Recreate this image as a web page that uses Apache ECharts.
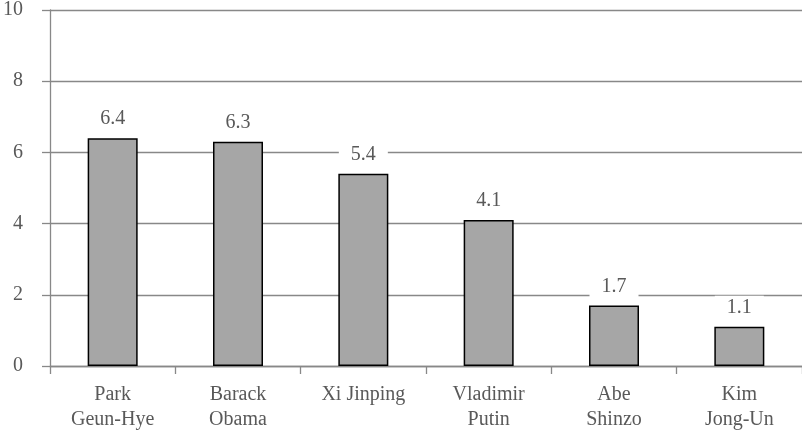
<!DOCTYPE html>
<html>
<head>
<meta charset="utf-8">
<script src="https://cdn.jsdelivr.net/npm/echarts@6/dist/echarts.min.js"></script>
<style>
  html, body { margin: 0; padding: 0; background: #fff; }
  #chart { width: 802px; height: 441px; }
</style>
</head>
<body>
<div id="chart"></div>
<script>
// Leaders and their scores
const leaders = ['Park\nGeun-Hye', 'Barack\nObama', 'Xi Jinping', 'Vladimir\nPutin', 'Abe\nShinzo', 'Kim\nJong-Un'];
const scores = [6.4, 6.3, 5.4, 4.1, 1.7, 1.1];
const yTicks = { min: 0, max: 10, step: 2 };

const serif = '"Liberation Serif", "DejaVu Serif", serif';
const textColor = '#595959';
const lineColor = '#888888';

const chart = echarts.init(document.getElementById('chart'), null, { renderer: 'canvas' });
chart.setOption({
  animation: false,
  backgroundColor: '#ffffff',
  grid: { left: 50, right: 0, top: 9, bottom: 75, containLabel: false },
  xAxis: {
    type: 'category',
    data: leaders,
    axisLine: { show: true, lineStyle: { color: lineColor, width: 1.3 } },
    axisTick: { show: true, length: 8, alignWithLabel: false, lineStyle: { color: lineColor, width: 1.3 } },
    axisLabel: {
      color: textColor, fontFamily: serif, fontSize: 20, lineHeight: 25, margin: 16, interval: 0
    }
  },
  yAxis: {
    type: 'value',
    min: yTicks.min, max: yTicks.max, interval: yTicks.step,
    axisLine: { show: true, lineStyle: { color: lineColor, width: 1.3 } },
    axisTick: { show: true, length: 8, lineStyle: { color: lineColor, width: 1.3 } },
    splitLine: { show: true, lineStyle: { color: lineColor, width: 1.3 } },
    axisLabel: { color: textColor, fontFamily: serif, fontSize: 20, margin: 27 }
  },
  series: [{
    type: 'bar',
    data: scores,
    barWidth: 50,
    itemStyle: { color: '#a6a6a6', borderColor: '#000000', borderWidth: 1.5 },
    label: {
      show: true,
      position: 'top',
      distance: 7,
      color: textColor,
      fontFamily: serif,
      fontSize: 20,
      backgroundColor: '#ffffff',
      padding: [2, 12, 2, 12],
      formatter: (p) => p.value.toFixed(1)
    }
  }]
});
</script>
</body>
</html>
